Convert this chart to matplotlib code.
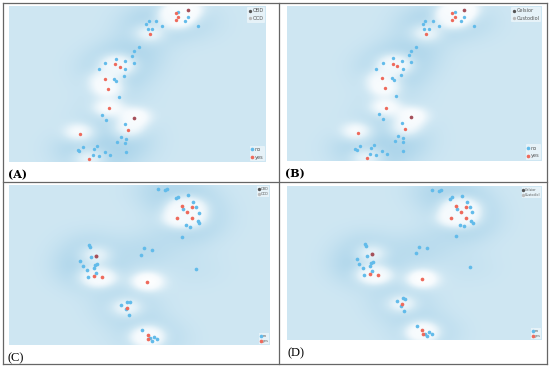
import numpy as np
import matplotlib.pyplot as plt
from matplotlib.colors import LinearSegmentedColormap
from matplotlib.lines import Line2D

# panel A / B points (same embedding, normalised coords)
ab_blue_x = [0.659, 0.696, 0.684, 0.735, 0.543, 0.572, 0.533, 0.597, 0.539, 0.557, 0.504, 0.488, 0.480, 0.487,
             0.416, 0.450, 0.375, 0.350, 0.453, 0.446, 0.410, 0.418, 0.427, 0.362, 0.377, 0.450, 0.437, 0.456,
             0.422, 0.453, 0.342, 0.287, 0.329, 0.268, 0.274, 0.372, 0.454, 0.325, 0.349, 0.392]
ab_blue_y = [0.964, 0.927, 0.906, 0.869, 0.906, 0.906, 0.884, 0.874, 0.852, 0.850, 0.734, 0.711, 0.681, 0.636,
             0.662, 0.645, 0.632, 0.593, 0.593, 0.552, 0.535, 0.520, 0.418, 0.302, 0.272, 0.246, 0.163, 0.150,
             0.126, 0.122, 0.103, 0.096, 0.084, 0.075, 0.071, 0.062, 0.064, 0.047, 0.041, 0.043]
ab_red_x = [0.649, 0.658, 0.649, 0.547, 0.414, 0.432, 0.373, 0.386, 0.388, 0.462, 0.278, 0.312]
ab_red_y = [0.957, 0.927, 0.908, 0.822, 0.627, 0.612, 0.533, 0.469, 0.343, 0.208, 0.182, 0.021]
ab_dark_x = [0.696, 0.487]
ab_dark_y = [0.974, 0.285]

# panel C / D points
cd_blue_x = [0.569, 0.598, 0.604, 0.641, 0.647, 0.685, 0.704, 0.716, 0.666, 0.727, 0.723, 0.729, 0.677, 0.693,
             0.662, 0.307, 0.310, 0.517, 0.549, 0.504, 0.315, 0.273, 0.339, 0.330, 0.284, 0.325, 0.297, 0.335,
             0.302, 0.718, 0.453, 0.462, 0.431, 0.447, 0.458, 0.508, 0.557, 0.567, 0.548, 0.540]
cd_blue_y = [0.977, 0.969, 0.973, 0.918, 0.927, 0.937, 0.895, 0.864, 0.849, 0.828, 0.774, 0.762, 0.747, 0.738,
             0.678, 0.623, 0.613, 0.605, 0.596, 0.565, 0.548, 0.523, 0.506, 0.498, 0.492, 0.479, 0.469, 0.450,
             0.425, 0.475, 0.270, 0.266, 0.253, 0.224, 0.190, 0.094, 0.052, 0.040, 0.027, 0.042]
cd_red_x = [0.662, 0.700, 0.681, 0.645, 0.700, 0.324, 0.356, 0.528, 0.451, 0.531, 0.533]
cd_red_y = [0.868, 0.864, 0.831, 0.791, 0.793, 0.429, 0.425, 0.395, 0.234, 0.063, 0.038]
cd_dark_x = [0.332]
cd_dark_y = [0.559]

panel_labels = ["(A)", "(B)", "(C)", "(D)"]
top_legends = [["OBD", "OCD"], ["Celsior", "Custodiol"], ["OBD", "OCD"], ["Celsior", "Custodiol"]]
class_labels = ["no", "yes"]

W, H = 550, 366
fig = plt.figure(figsize=(5.5, 3.66), dpi=100)

cmap = LinearSegmentedColormap.from_list("reg", [
    (0.0, "#f6d3cd"), (0.17, "#ffffff"), (0.35, "#f5fafd"), (0.615, "#cfe7f3"), (1.0, "#abd4ea")])


def region(bx, by, rx, ry):
    gx, gy = np.meshgrid(np.linspace(0, 1, 320), np.linspace(0, 1, 200))
    bd = np.zeros_like(gx)
    rd = np.zeros_like(gx)
    for x, y in zip(bx, by):
        bd += np.exp(-((gx - x) ** 2 + (gy - y) ** 2) / (2 * 0.08 ** 2))
    for x, y in zip(rx, ry):
        rd += np.exp(-((gx - x) ** 2 + (gy - y) ** 2) / (2 * 0.042 ** 2))
    return np.tanh(bd / 5) - 1.6 * np.tanh(rd * 1.1)


def px_axes(x0, y0, x1, y1):
    return fig.add_axes([x0 / W, 1 - y1 / H, (x1 - x0) / W, (y1 - y0) / H])


boxes = [(9, 6, 266, 162), (287, 6, 542, 161), (9, 185, 270, 345), (287, 186, 542, 340)]
sets = [(ab_blue_x, ab_blue_y, ab_red_x, ab_red_y, ab_dark_x, ab_dark_y)] * 2 + \
       [(cd_blue_x, cd_blue_y, cd_red_x, cd_red_y, cd_dark_x, cd_dark_y)] * 2

for i in range(4):
    bx, by, rx, ry, dx, dy = sets[i]
    ax = px_axes(*boxes[i])
    v = region(bx, by, rx + dx, ry + dy)
    ax.imshow(v, extent=[0, 1, 0, 1], origin="lower", aspect="auto", cmap=cmap,
              vmin=-1.6, vmax=1.0, interpolation="bilinear")
    ms = 6 if i < 2 else 7
    ax.scatter(bx, by, s=ms, c="#62bbea", lw=0, zorder=3)
    ax.scatter(rx, ry, s=ms, c="#ee6a5c", lw=0, zorder=3)
    ax.scatter(dx, dy, s=ms + 1, c="#a5505a", lw=0, zorder=3)
    ax.set_xlim(0, 1)
    ax.set_ylim(0, 1)
    ax.axis("off")

    fs = 3.6 if i < 2 else 2.4
    h1 = [Line2D([], [], marker="o", ls="", ms=1.4, color="#555555"),
          Line2D([], [], marker="o", ls="", ms=1.4, color="#bbbbbb")]
    leg = ax.legend(h1, top_legends[i], loc="upper right", fontsize=fs, frameon=True, handlelength=0.4,
                    handletextpad=0.3, borderpad=0.3, labelspacing=0.5, borderaxespad=0.2)
    leg.get_frame().set_facecolor("white")
    leg.get_frame().set_alpha(0.5)
    leg.get_frame().set_linewidth(0)
    for t in leg.get_texts():
        t.set_color("#555555")
    ax.add_artist(leg)
    h2 = [Line2D([], [], marker="o", ls="", ms=1.6, color="#62bbea"),
          Line2D([], [], marker="o", ls="", ms=1.6, color="#ee6a5c")]
    leg2 = ax.legend(h2, class_labels, loc="lower right", fontsize=fs, frameon=True, handlelength=0.4,
                     handletextpad=0.3, borderpad=0.3, labelspacing=0.5, borderaxespad=0.2)
    leg2.get_frame().set_facecolor("white")
    leg2.get_frame().set_alpha(0.5)
    leg2.get_frame().set_linewidth(0)
    for t in leg2.get_texts():
        t.set_color("#555555")

# panel labels
fig.text(8 / W, 1 - 175 / H, panel_labels[0], fontsize=8, fontweight="bold", family="DejaVu Serif", va="center")
fig.text(285 / W, 1 - 174 / H, panel_labels[1], fontsize=8, fontweight="bold", family="DejaVu Serif", va="center")
fig.text(8 / W, 1 - 358 / H, panel_labels[2], fontsize=9, family="Liberation Serif", va="center")
fig.text(287 / W, 1 - 353 / H, panel_labels[3], fontsize=9, family="Liberation Serif", va="center")

# table frame
lc = "#666666"
for y in [3, 181.5, 364]:
    fig.add_artist(Line2D([3 / W, 547 / W], [1 - y / H, 1 - y / H], color=lc, lw=0.9))
for x in [3, 279, 547]:
    fig.add_artist(Line2D([x / W, x / W], [1 - 3 / H, 1 - 364 / H], color=lc, lw=0.9))

fig.savefig("out.png", dpi=100)
